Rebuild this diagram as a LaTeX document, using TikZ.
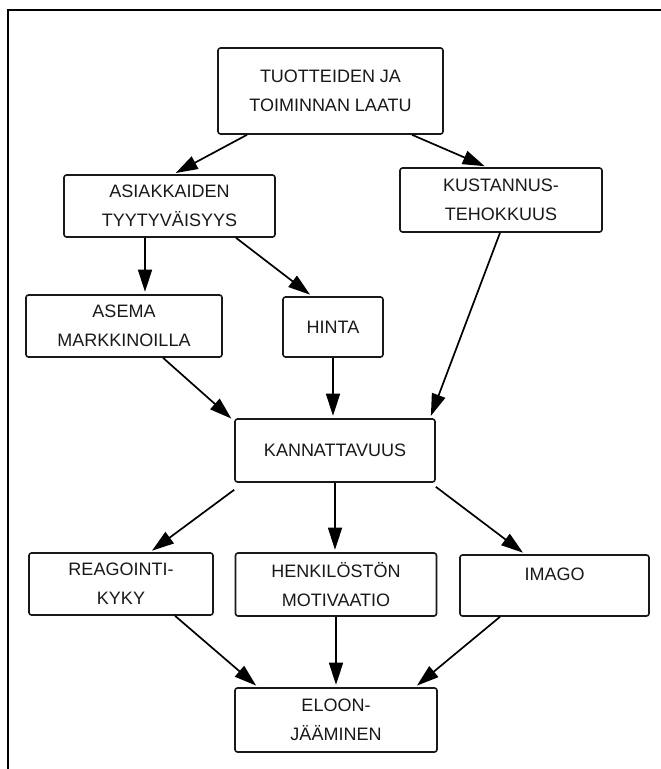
\documentclass[tikz,border=0pt]{standalone}
\usepackage{fontspec}
\setmainfont{Liberation Sans}
\usetikzlibrary{arrows.meta,calc}
\begin{document}
\begin{tikzpicture}[x=1pt,y=-1pt,
  box/.style={draw=black!90,line width=1.6pt,rounded corners=2.5pt,align=center,
    font=\fontsize{18}{29}\selectfont,text=black!90,inner sep=0pt},
  conn/.style={draw=black,line width=1.7pt,shorten >=2.5pt,-{Triangle[length=22pt,width=14pt]}}]
\useasboundingbox (0,0) rectangle (661,769);
\fill[white] (0,0) rectangle (661,769);
\draw[line width=2.5pt,line cap=rect] (8,769) -- (8,10) -- (661,10);
\node[box,minimum width=225pt,minimum height=86pt] (top) at (330.5,91) {TUOTTEIDEN JA\\TOIMINNAN LAATU};
\node[box,minimum width=211pt,minimum height=62pt] (asi) at (169.5,206) {ASIAKKAIDEN\\TYYTYVÄISYYS};
\node[box,minimum width=202pt,minimum height=64pt] (kus) at (501,200) {KUSTANNUS-\\TEHOKKUUS};
\node[box,minimum width=196pt,minimum height=62pt] (asema) at (124,326) {ASEMA\\MARKKINOILLA};
\node[box,minimum width=100pt,minimum height=60pt] (hinta) at (333,327) {HINTA};
\node[box,minimum width=200pt,minimum height=63pt] (kann) at (335,450.5) {KANNATTAVUUS};
\node[box,minimum width=184pt,minimum height=62pt] (reag) at (121,584) {REAGOINTI-\\KYKY};
\node[box,minimum width=201pt,minimum height=63pt] (henk) at (336,584.5) {HENKILÖSTÖN\\MOTIVAATIO};
\node[box,minimum width=189pt,minimum height=61pt,text height=13pt,text depth=23pt] (imago) at (554.5,585.5) {IMAGO};
\node[box,minimum width=202pt,minimum height=64pt] (eloon) at (336,720) {ELOON-\\JÄÄMINEN};
\draw[conn] ([xshift=-83.5pt]top.south) -- ([xshift=4pt]asi.north);
\draw[conn] ([xshift=81.5pt]top.south) -- ([xshift=-14pt]kus.north);
\draw[conn] ([xshift=-24.5pt]asi.south) -- ([xshift=-24.5pt]asi.south |- asema.north);
\draw[conn] ([xshift=66.5pt]asi.south) -- ([xshift=-21pt]hinta.north);
\draw[conn] ([xshift=-1pt]kus.south) -- ([xshift=95pt]kann.north);
\draw[conn] ([xshift=39pt]asema.south) -- ([xshift=-1pt,yshift=-2pt]kann.north west);
\draw[conn] (hinta.south) -- (hinta.south |- kann.north);
\draw[conn] ([yshift=-7pt]kann.south west) -- ([xshift=29pt]reag.north);
\draw[conn] (kann.south) -- (kann.south |- henk.north);
\draw[conn] ([yshift=-4pt]kann.south east) -- ([xshift=-29.5pt]imago.north);
\draw[conn] ([xshift=54pt]reag.south) -- ([xshift=-78pt]eloon.north);
\draw[conn] (henk.south) -- (henk.south |- eloon.north);
\draw[conn] ([xshift=-54.5pt]imago.south) -- ([xshift=79pt]eloon.north);
\end{tikzpicture}
\end{document}
